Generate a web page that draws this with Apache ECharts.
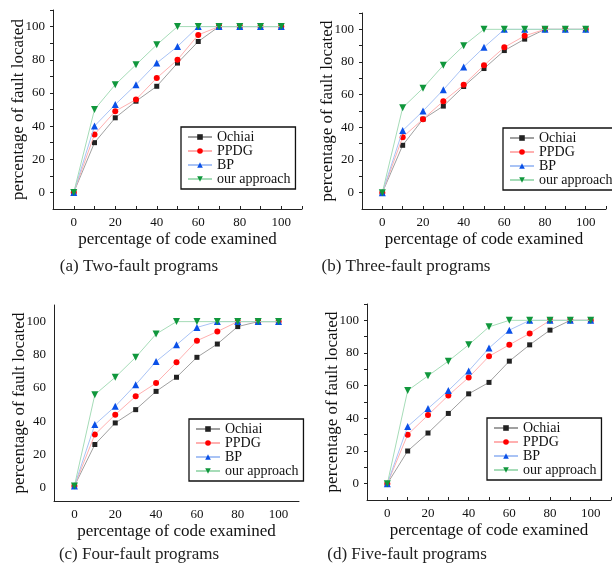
<!DOCTYPE html>
<html><head><meta charset="utf-8">
<script src="https://cdn.jsdelivr.net/npm/echarts@6/dist/echarts.min.js"></script>
<style>html,body{margin:0;padding:0;background:#fff}#c{width:612px;height:572px}</style>
</head><body><div id="c"></div>
<script>
const xs = [0, 10, 20, 30, 40, 50, 60, 70, 80, 90, 100];
const seriesNames = ['Ochiai', 'PPDG', 'BP', 'our approach'];
const yTicks = [0, 20, 40, 60, 80, 100];
const captions = ['(a) Two-fault programs', '(b) Three-fault programs', '(c) Four-fault programs', '(d) Five-fault programs'];

// (a) Two-fault programs
const twoOchiai = [0, 30, 45, 55, 64, 78, 91, 100, 100, 100, 100];
const twoPPDG   = [0, 35, 49, 56, 69, 80, 95, 100, 100, 100, 100];
const twoBP     = [0, 40, 53, 65, 78, 88, 100, 100, 100, 100, 100];
const twoOurs   = [0, 50, 65, 77, 89, 100, 100, 100, 100, 100, 100];
// (b) Three-fault programs
const threeOchiai = [0, 29, 45, 53, 65, 76, 87, 94, 100, 100, 100];
const threePPDG   = [0, 34, 45, 56, 66, 78, 89, 96, 100, 100, 100];
const threeBP     = [0, 38, 50, 63, 77, 89, 100, 100, 100, 100, 100];
const threeOurs   = [0, 52, 64, 78, 90, 100, 100, 100, 100, 100, 100];
// (c) Four-fault programs
const fourOchiai = [1, 26, 39, 47, 58, 66.5, 78.5, 86.5, 97, 100, 100];
const fourPPDG   = [1, 32, 44, 55, 63, 75.5, 88.5, 94, 100, 100, 100];
const fourBP     = [1, 38, 49, 62, 76, 86, 96.5, 100, 100, 100, 100];
const fourOurs   = [1, 56, 66.5, 78.5, 92.5, 100, 100, 100, 100, 100, 100];
// (d) Five-fault programs
const fiveOchiai = [0, 20, 31, 43, 55, 62, 75, 85, 94, 100, 100];
const fivePPDG   = [0, 30, 42, 54, 65, 78, 85, 92, 100, 100, 100];
const fiveBP     = [0, 35, 46, 57, 69, 83, 94, 100, 100, 100, 100];
const fiveOurs   = [0, 57, 66, 75, 85, 96, 100, 100, 100, 100, 100];

const panels = [
  [twoOchiai, twoPPDG, twoBP, twoOurs],
  [threeOchiai, threePPDG, threeBP, threeOurs],
  [fourOchiai, fourPPDG, fourBP, fourOurs],
  [fiveOchiai, fivePPDG, fiveBP, fiveOurs]
];

const FONT = '"Liberation Serif", "DejaVu Serif", serif';
const styles = [
  {symbol: 'rect', size: 5, mColor: '#222222', lColor: '#a0a0a0', rotate: 0},
  {symbol: 'circle', size: 6, mColor: '#ff0000', lColor: '#ffb0b0', rotate: 0},
  {symbol: 'triangle', size: 7, mColor: '#0a50e8', lColor: '#a9c3f5', rotate: 0},
  {symbol: 'triangle', size: 7, mColor: '#10973c', lColor: '#a6dcb8', rotate: 180}
];

const grids = [
  {left: 53, top: 10, width: 249, height: 199},
  {left: 362, top: 13, width: 244, height: 196},
  {left: 54, top: 305, width: 245, height: 196},
  {left: 367, top: 304, width: 244, height: 196}
];
const yMins = [-10, -10, -8, -10];
const showTicks = [true, true, false, true];
const legendPos = [
  {left: 181, top: 127},
  {left: 503, top: 128},
  {left: 189, top: 419},
  {left: 487, top: 418}
];
const captionPos = [[139, 267], [406, 267], [139, 555], [407, 555]];

const xAxes = [], yAxes = [], series = [], legends = [], graphics = [];
grids.forEach((g, i) => {
  xAxes.push({
    type: 'value', gridIndex: i, min: -10, max: 110,
    name: 'percentage of code examined', nameLocation: 'middle', nameGap: 22,
    nameTextStyle: {fontFamily: FONT, fontSize: 17, color: '#111'},
    axisLine: {show: true, onZero: false, lineStyle: {color: '#222', width: 1}},
    axisTick: {show: showTicks[i], inside: true, length: 3, customValues: [-10,0,10,20,30,40,50,60,70,80,90,100,110], lineStyle: {color: '#222'}},
    axisLabel: {fontFamily: FONT, fontSize: 13, color: '#111', margin: 7, customValues: [0,20,40,60,80,100]},
    splitLine: {show: false}
  });
  yAxes.push({
    type: 'value', gridIndex: i, min: yMins[i], max: 110,
    name: 'percentage of fault located', nameLocation: 'middle', nameGap: 26,
    nameMoveOverlap: false,
    nameTextStyle: {fontFamily: FONT, fontSize: 17, color: '#111'},
    axisLine: {show: true, onZero: false, lineStyle: {color: '#222', width: 1}},
    axisTick: {show: showTicks[i], inside: false, length: 3, customValues: [0,10,20,30,40,50,60,70,80,90,100,110], lineStyle: {color: '#222'}},
    axisLabel: {fontFamily: FONT, fontSize: 13, color: '#111', margin: 8, customValues: yTicks},
    splitLine: {show: false}
  });
  panels[i].forEach((vals, k) => {
    const st = styles[k];
    series.push({
      type: 'line', name: seriesNames[k], xAxisIndex: i, yAxisIndex: i,
      data: xs.map((x, j) => [x, vals[j]]),
      symbol: st.symbol, symbolSize: st.size, symbolRotate: st.rotate,
      showAllSymbol: true, animation: false,
      lineStyle: {color: st.lColor, width: 1},
      itemStyle: {color: st.mColor},
      z: 2 + k
    });
  });
  legends.push({
    orient: 'vertical', left: legendPos[i].left, top: legendPos[i].top,
    data: seriesNames, padding: [3, 5, 3, 6], itemGap: 0,
    itemWidth: 24, itemHeight: 7,
    borderColor: '#111', borderWidth: 1.3, backgroundColor: '#fff',
    textStyle: {fontFamily: FONT, fontSize: 14, color: '#111', lineHeight: 14},
    selectedMode: false
  });
  graphics.push({
    type: 'text', x: captionPos[i][0], y: captionPos[i][1],
    style: {text: captions[i], font: '17px ' + FONT, fill: '#222', textAlign: 'center', textVerticalAlign: 'middle'}
  });
});

const chart = echarts.init(document.getElementById('c'), null, {renderer: 'canvas'});
chart.setOption({
  animation: false,
  grid: grids,
  xAxis: xAxes,
  yAxis: yAxes,
  legend: legends,
  series: series,
  graphic: graphics
});
</script></body></html>
